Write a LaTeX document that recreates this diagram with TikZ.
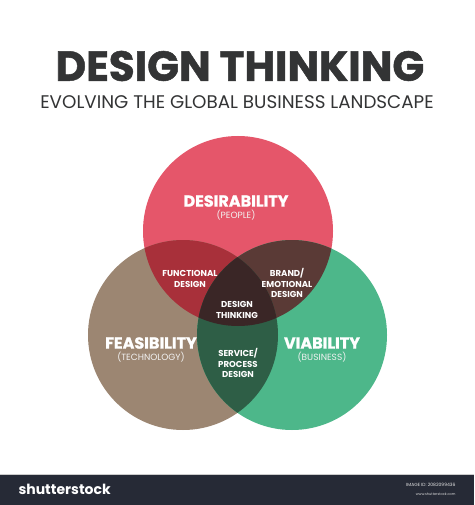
\documentclass[tikz,border=0pt]{standalone}
\usepackage{fontspec}
\setmainfont{Poppins}
\newfontfamily\heavyfont{Poppins}[BoldFeatures={FakeBold=1.2}]
\usetikzlibrary{positioning}
\definecolor{desire}{HTML}{E5566A}
\definecolor{feasible}{HTML}{9C8672}
\definecolor{viable}{HTML}{4DB78A}
\definecolor{desfea}{HTML}{A8303A}
\definecolor{desvia}{HTML}{5A3A36}
\definecolor{feavia}{HTML}{2E5E46}
\definecolor{core}{HTML}{3A2626}
\definecolor{dark}{HTML}{333435}
\definecolor{footer}{HTML}{262A36}
\tikzset{
    % Title styles
    title text/.style={font=\heavyfont\bfseries\fontsize{42}{42}\selectfont, text=dark},
    subtitle text/.style={font=\fontsize{18.3}{18}\selectfont, text=dark},
    % Circle labels
    main label/.style={font=\heavyfont\bfseries\fontsize{16}{16}\selectfont, text=white},
    sub label/.style={font=\fontsize{9}{10}\selectfont, text=white!90!gray},
    % Overlap labels
    overlap label/.style={font=\bfseries\fontsize{8.6}{10.4}\selectfont, text=white, align=center}
}
\begin{document}
\begin{tikzpicture}[x=1pt, y=-1pt]
    \useasboundingbox (0,0) rectangle (474,505);
    \fill[white] (0,0) rectangle (474,505);

    % Circle centres
    \coordinate (cdes) at (238,231);
    \coordinate (cfea) at (183,335);
    \coordinate (cvia) at (292,335);

    % Circles
    \fill[desire] (cdes) circle[radius=95pt];
    \fill[feasible] (cfea) circle[radius=95pt];
    \fill[viable] (cvia) circle[radius=95pt];

    % Overlaps
    \begin{scope}
        \clip (cdes) circle[radius=95pt];
        \fill[desfea] (cfea) circle[radius=95pt];
        \fill[desvia] (cvia) circle[radius=95pt];
    \end{scope}
    \begin{scope}
        \clip (cfea) circle[radius=95pt];
        \fill[feavia] (cvia) circle[radius=95pt];
        \clip (cvia) circle[radius=95pt];
        \fill[core] (cdes) circle[radius=95pt];
    \end{scope}

    % Title
    \node[title text] (title) at (240,66) {DESIGN THINKING};
    \node[subtitle text] (subtitle) at (237,102) {EVOLVING THE GLOBAL BUSINESS LANDSCAPE};

    % Main labels
    \node[main label] (des) at (236,201) {DESIRABILITY};
    \node[sub label, below=-4pt of des] (desub) {(PEOPLE)};
    \node[main label] (fea) at (151,343) {FEASIBILITY};
    \node[sub label, below=-4pt of fea] (feasub) {(TECHNOLOGY)};
    \node[main label] (via) at (322,343) {VIABILITY};
    \node[sub label, below=-4pt of via] (viasub) {(BUSINESS)};

    % Overlap labels
    \node[overlap label] (functional) at (190,279) {FUNCTIONAL\\DESIGN};
    \node[overlap label] (brand) at (287,283) {BRAND/\\EMOTIONAL\\DESIGN};
    \node[overlap label] (thinking) at (237,310) {DESIGN\\THINKING};
    \node[overlap label] (service) at (238,363) {SERVICE/\\PROCESS\\DESIGN};

    % Footer bar
    \fill[footer] (0,474) rectangle (474,505);
    \draw[gray!40, line width=1pt] (0,474) -- (474,474);
    \node[font=\bfseries\fontsize{14}{14}\selectfont, text=white, anchor=west] (brandmark) at (15,489) {shutterstock};
    \node[font=\fontsize{4.5}{5}\selectfont, text=white!80!gray, anchor=east] (imgid) at (459,485) {IMAGE ID: 2082099436};
    \node[font=\fontsize{3.5}{4}\selectfont, text=white!70!gray, anchor=east] (site) at (459,494) {www.shutterstock.com};
\end{tikzpicture}
\end{document}
